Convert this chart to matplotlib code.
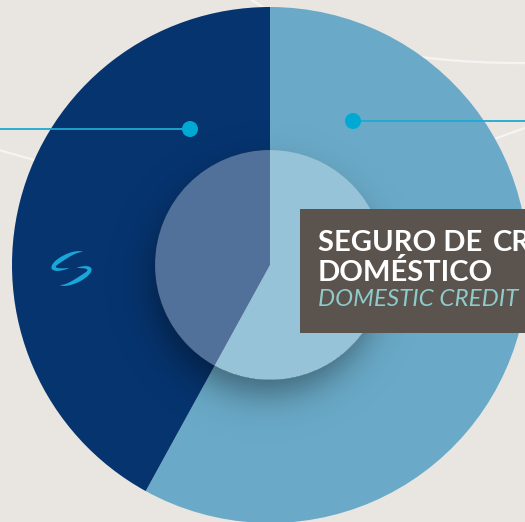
import numpy as np
import matplotlib
matplotlib.use('Agg')
from matplotlib import pyplot as plt
from matplotlib.patches import Circle, Rectangle, Polygon, PathPatch
from matplotlib.path import Path

W, H = 525, 522

# data (share of the two segments, light one first, clockwise from 12 o'clock)
shares = [58, 42]
slice_colors = ['#6AAAC8', '#06346F']
title_parts = ['SEGURO DE', 'CRÉDITO']
title_line2 = 'DOMÉSTICO'
box_sub = 'DOMESTIC CREDIT'

BG = '#E9E6E2'
CYAN = '#00A9D4'

cx, cy = 270, 265      # pie centre in picture pixels (y down)
R, r_in = 258, 115


def yy(y):
    # picture pixel (y down) -> axes y (up)
    return H - y


fig = plt.figure(figsize=(W / 100, H / 100), dpi=100)
fig.patch.set_facecolor(BG)
ax = fig.add_axes([0, 0, 1, 1])
ax.set_facecolor(BG)

# faint orbit lines behind the pie
for p0, p1, p2 in [((240, -8), (340, 65), (530, 63)),
                   ((-10, 147), (260, 235), (540, 122))]:
    verts = [(p0[0], yy(p0[1])), (p1[0], yy(p1[1])), (p2[0], yy(p2[1]))]
    path = Path(verts, [Path.MOVETO, Path.CURVE3, Path.CURVE3])
    ax.add_patch(PathPatch(path, fill=False, edgecolor='#F6F4F2', lw=1.6, zorder=0))

wedges, _ = ax.pie(shares, colors=slice_colors, startangle=90, counterclock=False,
                   center=(cx, yy(cy)), radius=R, wedgeprops=dict(linewidth=0))
for w in wedges:
    w.set_zorder(1)

# soft shadow under the inner disc
gx, gy = np.meshgrid(np.arange(W) + 0.5, np.arange(H) + 0.5)
d_sh = np.hypot(gx - 266, gy - 282)
d_in = np.hypot(gx - cx, gy - cy)
a = 0.42 / (1 + np.exp((d_sh - 110) / 11.0))
a[d_in < r_in - 0.5] = 0
shadow = np.zeros((H, W, 4))
shadow[..., 3] = a
im = ax.imshow(shadow, extent=(0, W, 0, H), origin='upper', zorder=2, interpolation='bilinear')
clip = Circle((cx, yy(cy)), R, transform=ax.transData)
im.set_clip_path(clip)

ax.add_patch(Circle((cx, yy(cy)), r_in, facecolor='white', alpha=0.3, lw=0, zorder=3))

# leader lines with dots
ax.plot([0, 190], [yy(129), yy(129)], color='#1DAAD2', lw=1.3, zorder=4, solid_capstyle='butt')
ax.plot([353, W], [yy(121), yy(121)], color='#1DAAD2', lw=1.3, zorder=4, solid_capstyle='butt')
ax.add_patch(Circle((190, yy(129)), 8, color=CYAN, lw=0, zorder=5))
ax.add_patch(Circle((353, yy(121)), 8, color=CYAN, lw=0, zorder=5))


# small swoosh logo on the dark slice
def crescent(c, a_, b_, t0, t1, w, rot):
    t = np.radians(np.linspace(t0, t1, 50))
    thick = w * np.sin(np.linspace(0, np.pi, 50)) ** 0.8
    ox, oy = a_ * np.cos(t), b_ * np.sin(t)
    ix, iy = (a_ - thick) * np.cos(t), (b_ - thick) * np.sin(t)
    xs = np.concatenate([ox, ix[::-1]])
    ys = np.concatenate([oy, iy[::-1]])
    ro = np.radians(rot)
    X = c[0] + xs * np.cos(ro) - ys * np.sin(ro)
    Y = c[1] + xs * np.sin(ro) + ys * np.cos(ro)
    return np.column_stack([X, yy(Y)])


ax.add_patch(Polygon(crescent((68, 261), 18, 7, -15, -265, 5, -25), closed=True,
                     color='#1AA6D9', lw=0, zorder=5))
ax.add_patch(Polygon(crescent((75, 276), 18, 7, -75, 165, 5, -25), closed=True,
                     color='#1AA6D9', lw=0, zorder=5))

# label box
ax.add_patch(Rectangle((300, yy(333)), 240, 124, facecolor='#5B534D', lw=0, zorder=6))
for part, x in zip(title_parts, [318, 493]):
    ax.text(x, yy(251), part, family='Lato', weight='bold', fontsize=21,
            color='white', va='baseline', ha='left', zorder=7)
ax.text(318, yy(281), title_line2, family='Lato', weight='bold', fontsize=21,
        color='white', va='baseline', ha='left', zorder=7)
ax.text(318, yy(306), box_sub, family='Lato', style='italic', weight='normal', fontsize=17.4,
        color='#8FCBCB', va='baseline', ha='left', zorder=7)

ax.set_xlim(0, W)
ax.set_ylim(0, H)
ax.set_aspect('auto')
ax.axis('off')

fig.savefig('out.png', dpi=100, facecolor=BG)
